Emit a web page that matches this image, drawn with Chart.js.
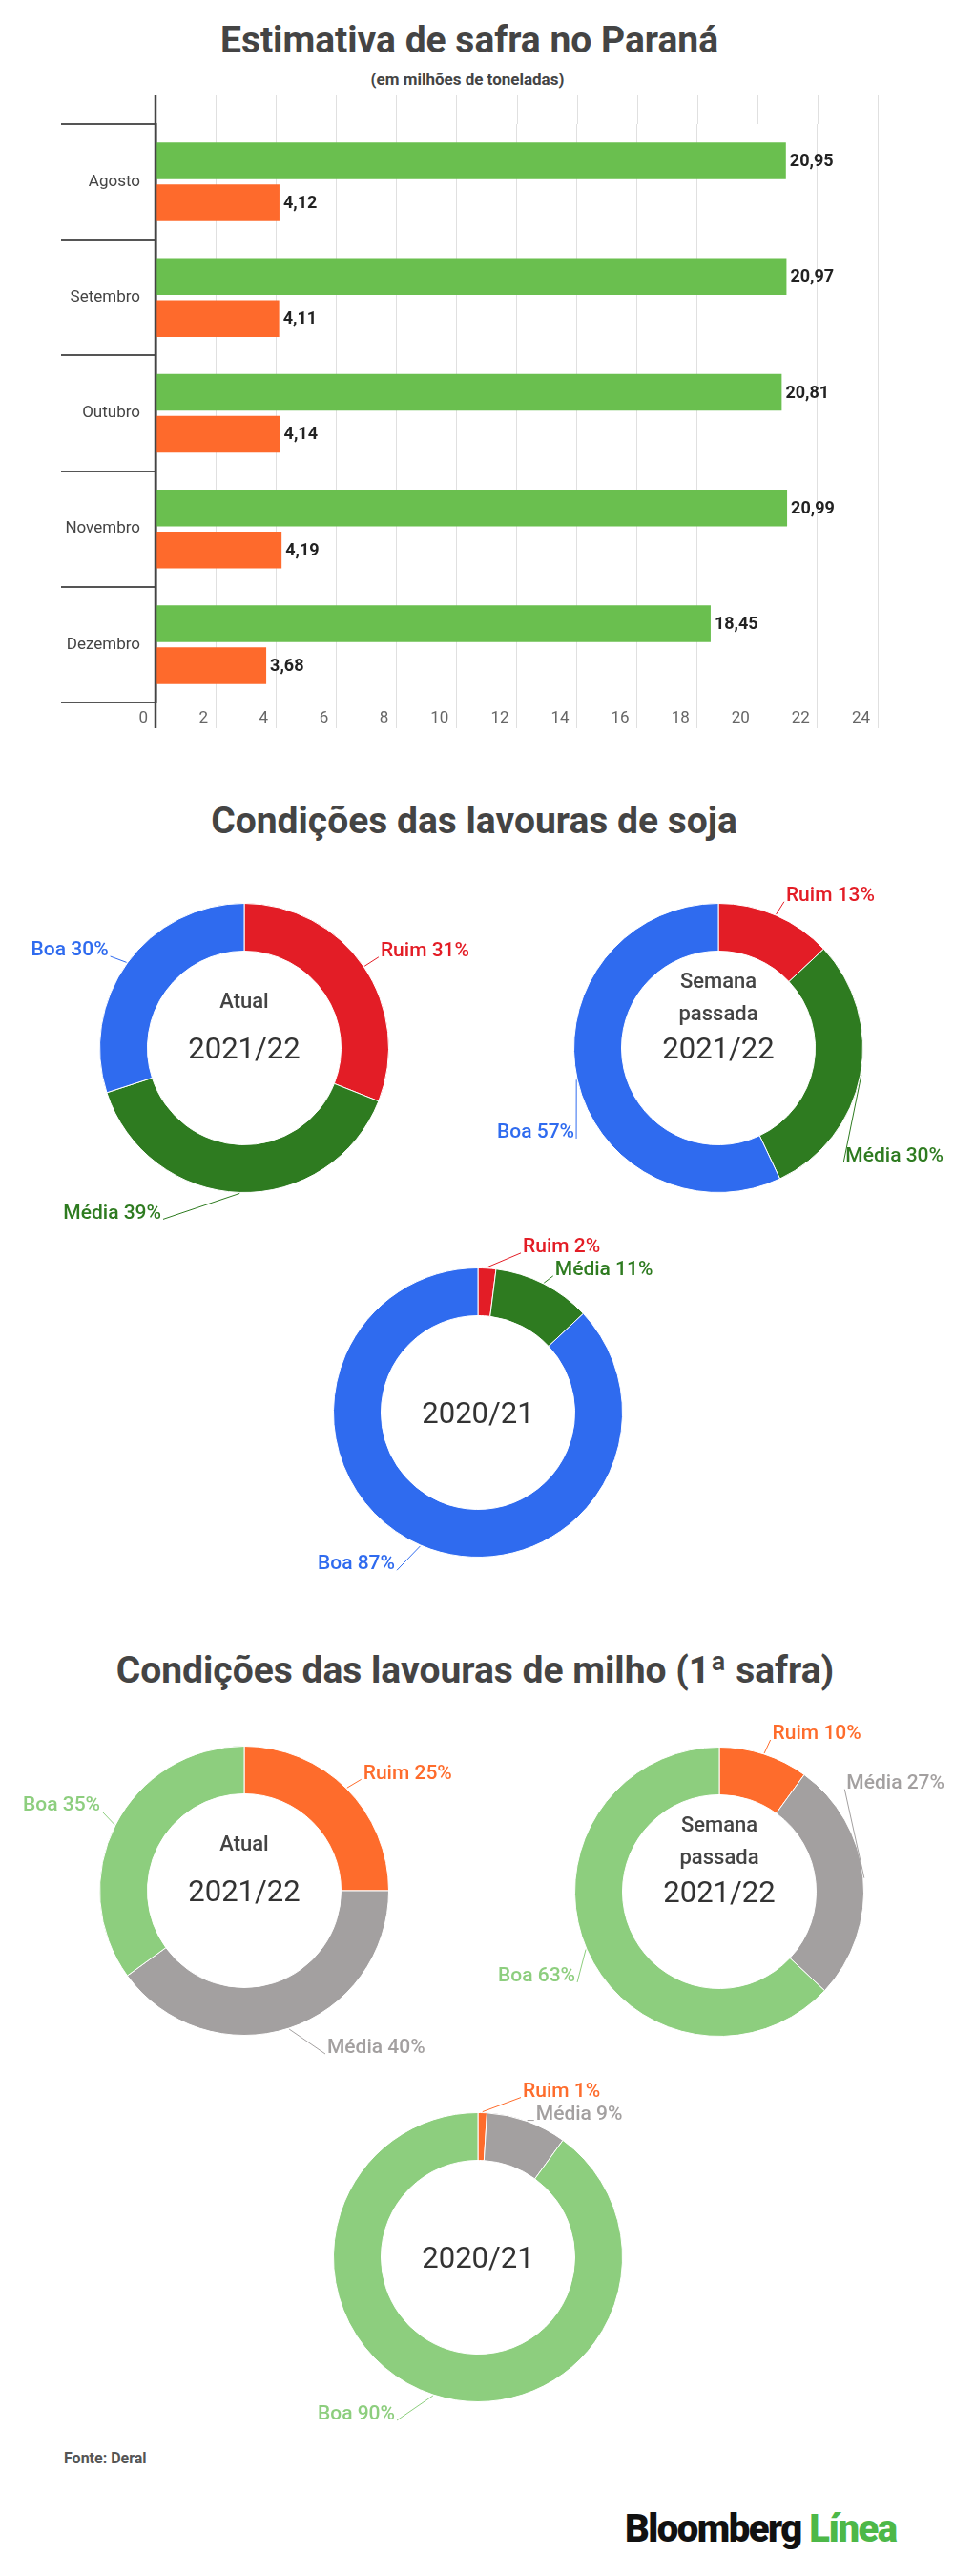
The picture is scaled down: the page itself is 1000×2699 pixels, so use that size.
<!DOCTYPE html>
<html lang="pt-BR">
<head>
<meta charset="utf-8">
<title>Estimativa de safra no Paraná</title>
<script src="https://cdn.jsdelivr.net/npm/chart.js@4.4.1/dist/chart.umd.min.js"></script>
<style>
    html, body { margin: 0; padding: 0; background: #fff; }
    body { width: 1000px; height: 2699px; position: relative; overflow: hidden; font-family: Roboto, "Noto Sans", sans-serif; }
    .txt { position: absolute; white-space: nowrap; transform: translate(-50%, -50%); color: #444; font-weight: 700; }
    .titulo { font-size: 39px; }
    .sub { font-size: 17px; font-weight: 700; }
    .fonte { position: absolute; left: 67px; top: 2566px; font-size: 16px; font-weight: 700; color: #555; }
    .logo { position: absolute; left: 655px; top: 2626px; font-size: 40px; font-weight: 900; letter-spacing: -1.5px; color: #111; }
    .logo span { color: #4db848; }
    canvas { position: absolute; }
</style>
</head>
<body>

<div class="txt titulo" style="left:492px; top:42px;">Estimativa de safra no Paraná</div>
<div class="txt sub" style="left:490px; top:83px;">(em milhões de toneladas)</div>
<canvas id="barras" width="1000" height="800" style="left:0; top:0;"></canvas>

<div class="txt titulo" style="left:497px; top:860px;">Condições das lavouras de soja</div>
<canvas id="sojaAtual" width="490" height="420"></canvas>
<canvas id="sojaSemana" width="490" height="420"></canvas>
<canvas id="soja2020" width="490" height="420"></canvas>

<div class="txt titulo" style="left:498px; top:1750px;">Condições das lavouras de milho (1ª safra)</div>
<canvas id="milhoAtual" width="490" height="420"></canvas>
<canvas id="milhoSemana" width="490" height="420"></canvas>
<canvas id="milho2020" width="490" height="420"></canvas>

<div class="fonte">Fonte: Deral</div>
<div class="logo">Bloomberg <span>Línea</span></div>

<script>
// Dados do gráfico de barras (milhões de toneladas)
const meses = ['Agosto', 'Setembro', 'Outubro', 'Novembro', 'Dezembro'];
const serieVerde = [20.95, 20.97, 20.81, 20.99, 18.45];
const serieLaranja = [4.12, 4.11, 4.14, 4.19, 3.68];
const eixoMin = 0;
const eixoMax = 24;
const eixoPasso = 2;

// Dados das rosquinhas (%)
const condicoes = ['Ruim', 'Média', 'Boa'];
const sojaAtual = [31, 39, 30];
const sojaSemanaPassada = [13, 30, 57];
const soja2020 = [2, 11, 87];
const milhoAtual = [25, 40, 35];
const milhoSemanaPassada = [10, 27, 63];
const milho2020 = [1, 9, 90];

const coresSoja = ['#e31d26', '#2e7b20', '#2f6bef'];
const coresMilho = ['#fe6c2c', '#a3a0a0', '#8dce7e'];

document.addEventListener('DOMContentLoaded', function() {

    // Linhas de grade acima da área e eixo vertical prolongado
    const prolongamentos = {
        id: 'prolongamentos',
        beforeDatasetsDraw(chart) {
            const { ctx, chartArea, scales } = chart;
            ctx.save();
            ctx.strokeStyle = '#e0e0e0';
            ctx.lineWidth = 1;
            scales.x.ticks.forEach(t => {
                const px = Math.round(scales.x.getPixelForValue(t.value)) + 0.5;
                ctx.beginPath();
                ctx.moveTo(px, chartArea.top - 30);
                ctx.lineTo(px, chartArea.top);
                ctx.stroke();
            });
            ctx.restore();
        },
        afterDatasetsDraw(chart) {
            const { ctx, chartArea } = chart;
            ctx.save();
            ctx.strokeStyle = '#444';
            ctx.lineWidth = 2.5;
            ctx.beginPath();
            ctx.moveTo(chartArea.left, chartArea.top - 30);
            ctx.lineTo(chartArea.left, chartArea.bottom + 27);
            ctx.stroke();
            ctx.restore();
        }
    };

    // Valores ao lado das barras
    const valoresBarras = {
        id: 'valoresBarras',
        afterDatasetsDraw(chart) {
            const ctx = chart.ctx;
            ctx.save();
            ctx.font = '700 18px Roboto';
            ctx.fillStyle = '#222';
            ctx.textAlign = 'left';
            ctx.textBaseline = 'middle';
            chart.data.datasets.forEach((ds, d) => {
                chart.getDatasetMeta(d).data.forEach((bar, i) => {
                    const texto = ds.data[i].toFixed(2).replace('.', ',');
                    ctx.fillText(texto, bar.x + 4, bar.y + 1);
                });
            });
            ctx.restore();
        }
    };

    new Chart(document.getElementById('barras'), {
        type: 'bar',
        data: {
            labels: meses,
            datasets: [
                { data: serieVerde, backgroundColor: '#6abf4f' },
                { data: serieLaranja, backgroundColor: '#fe6a2c' }
            ]
        },
        options: {
            indexAxis: 'y',
            responsive: false,
            animation: false,
            categoryPercentage: 0.726,
            barPercentage: 0.875,
            layout: { padding: { top: 130, right: 80, left: 0, bottom: 0 } },
            plugins: { legend: { display: false }, tooltip: { enabled: false } },
            scales: {
                x: {
                    min: eixoMin,
                    max: eixoMax,
                    afterFit: s => { s.height = 64; },
                    border: { display: false },
                    grid: { color: '#e0e0e0', lineWidth: 1, tickLength: 27 },
                    ticks: {
                        stepSize: eixoPasso,
                        align: 'end',
                        labelOffset: -8,
                        padding: -20,
                        color: '#666',
                        font: { family: 'Roboto', size: 17 }
                    }
                },
                y: {
                    afterFit: s => { s.width = 163; },
                    border: { display: true, color: '#444', width: 2.5 },
                    grid: { offset: true, drawOnChartArea: false, tickLength: 99, color: '#555', lineWidth: 2 },
                    ticks: {
                        padding: -83,
                        color: '#444',
                        font: { family: 'Roboto', size: 17 }
                    }
                }
            }
        },
        plugins: [prolongamentos, valoresBarras]
    });

    // Rótulos externos com linha de chamada
    const LIMITE_DIR = 236, LIMITE_ESQ = 232;
    const rotulos = {
        id: 'rotulos',
        afterDatasetsDraw(chart) {
            const ctx = chart.ctx;
            const ds = chart.data.datasets[0];
            ctx.save();
            ctx.font = '500 21px Roboto';
            ctx.textBaseline = 'middle';
            const itens = chart.getDatasetMeta(0).data.map((arc, i) => {
                const texto = chart.data.labels[i] + ' ' + ds.data[i] + '%';
                const w = ctx.measureText(texto).width;
                const r = arc.outerRadius + 22;
                let meio = (arc.startAngle + arc.endAngle) / 2;
                let cos = Math.cos(meio), sin = Math.sin(meio);
                const lado = cos >= 0 ? 1 : -1;
                // se o rótulo não cabe na lateral, desliza pelo círculo
                const limite = lado > 0 ? (LIMITE_DIR - 2 - w) / r : (LIMITE_ESQ - 2 - w) / r;
                if (Math.abs(cos) > limite) {
                    const s = sin >= 0 ? 1 : -1;
                    const base = Math.acos(Math.max(-1, Math.min(1, limite)));
                    meio = lado > 0 ? s * base : s * (Math.PI - base);
                    cos = Math.cos(meio);
                    sin = Math.sin(meio);
                }
                const minimo = sin < 0 ? 45 : 85;
                return {
                    arc, lado,
                    ancora: (arc.startAngle + arc.endAngle) / 2,
                    tx: arc.x + lado * Math.max(Math.abs(r * cos), minimo),
                    ty: arc.y + r * sin,
                    texto,
                    cor: ds.backgroundColor[i]
                };
            });
            // evita sobreposição no mesmo lado
            [1, -1].forEach(lado => {
                const grupo = itens.filter(it => it.lado === lado).sort((a, b) => a.ty - b.ty);
                for (let j = 1; j < grupo.length; j++) {
                    if (grupo[j].ty < grupo[j - 1].ty + 24) grupo[j].ty = grupo[j - 1].ty + 24;
                }
            });
            itens.forEach(it => {
                const ax = it.arc.x + (it.arc.outerRadius + 1) * Math.cos(it.ancora);
                const ay = it.arc.y + (it.arc.outerRadius + 1) * Math.sin(it.ancora);
                ctx.strokeStyle = it.cor;
                ctx.lineWidth = 1;
                ctx.beginPath();
                ctx.moveTo(ax, ay);
                ctx.lineTo(it.tx, it.ty + 6);
                ctx.stroke();
                ctx.fillStyle = it.cor;
                ctx.textAlign = it.lado > 0 ? 'left' : 'right';
                ctx.fillText(it.texto, it.tx + it.lado * 2, it.ty);
            });
            ctx.restore();
        }
    };

    // Texto no centro da rosquinha
    const centro = {
        id: 'centro',
        afterDraw(chart, args, opts) {
            const { ctx, chartArea } = chart;
            const cx = (chartArea.left + chartArea.right) / 2;
            const cy = (chartArea.top + chartArea.bottom) / 2;
            const linhas = opts.linhas || [];
            const n = linhas.length;
            ctx.save();
            ctx.textAlign = 'center';
            ctx.textBaseline = 'middle';
            linhas.forEach((linha, i) => {
                if (i === n - 1) {
                    ctx.font = '400 31px Roboto';
                    ctx.fillStyle = '#333';
                    ctx.fillText(linha, cx, cy + 3);
                } else {
                    ctx.font = '500 22px Roboto';
                    ctx.fillStyle = '#444';
                    const dy = n === 2 ? -48 : (i === 0 ? -69 : -35);
                    ctx.fillText(linha, cx, cy + dy);
                }
            });
            ctx.restore();
        }
    };

    function criarRosca(id, cx, cy, valores, cores, linhas) {
        const canvas = document.getElementById(id);
        canvas.style.left = (cx - 245) + 'px';
        canvas.style.top = (cy - 210) + 'px';
        new Chart(canvas, {
            type: 'doughnut',
            data: {
                labels: condicoes,
                datasets: [{
                    data: valores,
                    backgroundColor: cores,
                    borderColor: '#fff',
                    borderWidth: 1,
                    hoverOffset: 0
                }]
            },
            options: {
                responsive: false,
                animation: false,
                cutout: '67%',
                layout: { padding: { left: 93, right: 93, top: 58, bottom: 58 } },
                plugins: {
                    legend: { display: false },
                    tooltip: { enabled: false },
                    centro: { linhas: linhas }
                }
            },
            plugins: [rotulos, centro]
        });
    }

    criarRosca('sojaAtual', 255.5, 1098, sojaAtual, coresSoja, ['Atual', '2021/22']);
    criarRosca('sojaSemana', 753, 1098, sojaSemanaPassada, coresSoja, ['Semana', 'passada', '2021/22']);
    criarRosca('soja2020', 501, 1480, soja2020, coresSoja, ['2020/21']);
    criarRosca('milhoAtual', 256, 1981, milhoAtual, coresMilho, ['Atual', '2021/22']);
    criarRosca('milhoSemana', 754, 1982, milhoSemanaPassada, coresMilho, ['Semana', 'passada', '2021/22']);
    criarRosca('milho2020', 501, 2365, milho2020, coresMilho, ['2020/21']);
});
</script>
</body>
</html>
